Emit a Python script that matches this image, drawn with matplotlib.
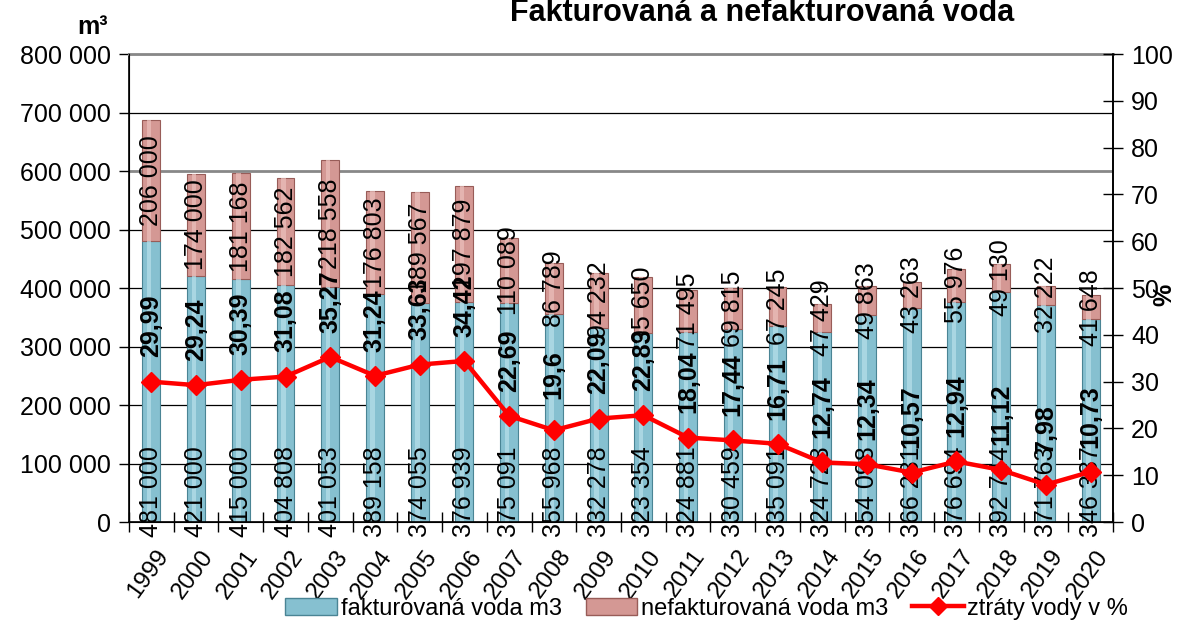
import matplotlib
matplotlib.use('Agg')
import matplotlib.pyplot as plt
import matplotlib.transforms as mtransforms
from matplotlib.patches import Patch
from matplotlib.lines import Line2D
import numpy as np

plt.rcParams['font.family'] = ['Liberation Sans', 'DejaVu Sans']

# data
years = ['1999', '2000', '2001', '2002', '2003', '2004', '2005', '2006', '2007', '2008', '2009',
         '2010', '2011', '2012', '2013', '2014', '2015', '2016', '2017', '2018', '2019', '2020']
fakturovana = [481000, 421000, 415000, 404808, 401053, 389158, 374055, 376939, 375091, 355968, 332278,
               323354, 324881, 330459, 335091, 324728, 354098, 366281, 376694, 392744, 371763, 346387]
nefakturovana = [206000, 174000, 181168, 182562, 218558, 176803, 189567, 197879, 110089, 86789, 94232,
                 95650, 71495, 69815, 67245, 47429, 49863, 43263, 55976, 49130, 32222, 41648]
ztraty = [29.99, 29.24, 30.39, 31.08, 35.27, 31.24, 33.63, 34.42, 22.69, 19.6, 22.09,
          22.83, 18.04, 17.44, 16.71, 12.74, 12.34, 10.57, 12.94, 11.12, 7.98, 10.73]
left_ticks = [0, 100000, 200000, 300000, 400000, 500000, 600000, 700000, 800000]
right_ticks = [0, 10, 20, 30, 40, 50, 60, 70, 80, 90, 100]


def fmt_thousands(v):
    return f'{v:,}'.replace(',', ' ')


def fmt_pct(v):
    return f'{v:g}'.replace('.', ',')


blue = '#86c0d0'
blue_edge = '#4a8494'
pink = '#d49894'
pink_edge = '#985c58'

fig = plt.figure(figsize=(11.82, 6.21), dpi=100)
ax = fig.add_axes([0.1091, 0.1594, 0.8325, 0.7536])
x = np.arange(len(years))
w = 0.4

ax.bar(x, fakturovana, w, color=blue, edgecolor=blue_edge, linewidth=0.8, zorder=2)
ax.bar(x, nefakturovana, w, bottom=fakturovana, color=pink, edgecolor=pink_edge, linewidth=0.8, zorder=2)
# light stripe to hint at cylinder shading
ax.bar(x - 0.05, fakturovana, 0.1, color='#b8e0ea', linewidth=0, alpha=0.7, zorder=2)
ax.bar(x - 0.05, nefakturovana, 0.1, bottom=fakturovana, color='#ecc1bd', linewidth=0, alpha=0.7, zorder=2)

ax.set_xlim(-0.5, len(years) - 0.5)
ax.set_ylim(0, 800000)
ax.set_yticks(left_ticks)
ax.set_yticklabels([fmt_thousands(t) for t in left_ticks], fontsize=18)
ax.grid(axis='y', color='black', linewidth=0.9, zorder=0)
ax.set_axisbelow(True)
gl = ax.get_ygridlines()
gl[6].set_color('#888888')
gl[6].set_linewidth(2)
ax.tick_params(axis='y', direction='out', length=7, width=1, pad=6)

ax.set_xticks(x)
ax.set_xticklabels(years, fontsize=17.5, rotation=54, ha='right', va='top', rotation_mode='anchor')
ax.set_xticks(np.arange(-0.5, len(years), 1), minor=True)
ax.tick_params(axis='x', which='major', length=0, pad=17)
ax.tick_params(axis='x', which='minor', direction='inout', length=14, width=1)
offset = mtransforms.ScaledTranslation(3 / 72, 0, fig.dpi_scale_trans)
for lbl in ax.get_xticklabels():
    lbl.set_transform(lbl.get_transform() + offset)

for s in ['left', 'right', 'bottom']:
    ax.spines[s].set_linewidth(1.2)
ax.spines['top'].set_color('#888888')
ax.spines['top'].set_linewidth(2)

# value labels on bars
for xi, f, n in zip(x, fakturovana, nefakturovana):
    ax.annotate(fmt_thousands(f), (xi, 0), xytext=(0, 22), textcoords='offset points',
                rotation=90, ha='center', va='center', fontsize=18, zorder=5)
    ax.text(xi, f + n / 2, fmt_thousands(n), rotation=90, ha='center', va='center',
            fontsize=18, zorder=5)

ax2 = ax.twinx()
ax2.set_ylim(0, 100)
ax2.set_yticks(right_ticks)
ax2.set_yticklabels([str(t) for t in right_ticks], fontsize=18)
ax2.tick_params(axis='y', direction='inout', length=14, width=1, pad=6)
ax2.spines['right'].set_linewidth(1.2)
ax2.spines['top'].set_visible(False)
ax2.plot(x, ztraty, color='#ff0000', linewidth=3.2, marker='D', markersize=10, zorder=4)
for xi, p in zip(x, ztraty):
    ax2.annotate(fmt_pct(p), (xi, p), xytext=(0, 40), textcoords='offset points',
                 rotation=90, ha='center', va='center', fontsize=18, fontweight='bold', zorder=6)

fig.text(0.645, 0.966, 'Fakturovaná a nefakturovaná voda', ha='center', va='baseline',
         fontsize=22, fontweight='bold')
fig.text(0.078, 0.945, 'm³', ha='center', va='baseline', fontsize=18, fontweight='bold')
fig.text(0.985, 0.525, '%', ha='center', va='center', fontsize=18, fontweight='bold', rotation=90)

handles = [Patch(facecolor=blue, edgecolor=blue_edge),
           Patch(facecolor=pink, edgecolor=pink_edge),
           Line2D([], [], color='#ff0000', linewidth=3.2, marker='D', markersize=9)]
fig.legend(handles, ['fakturovaná voda m3', 'nefakturovaná voda m3', 'ztráty vody v %'],
           loc='center', bbox_to_anchor=(0.598, 0.02), ncol=3, frameon=False, fontsize=17,
           handlelength=2.2, handletextpad=0.15, columnspacing=1.0)

fig.savefig('out.png', dpi=100)
